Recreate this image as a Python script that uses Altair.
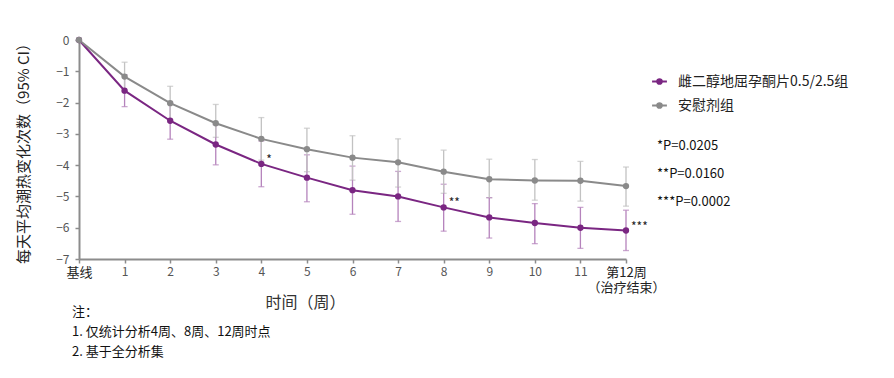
import altair as alt
import pandas as pd

weeks = list(range(13))
series_names = ["雌二醇地屈孕酮片0.5/2.5组", "安慰剂组"]
purple_mean = [0, -1.62, -2.58, -3.34, -3.96, -4.40, -4.80, -5.00, -5.35, -5.67, -5.85, -6.00, -6.09]
purple_low = [0, -2.13, -3.17, -3.99, -4.69, -5.17, -5.57, -5.80, -6.11, -6.33, -6.51, -6.66, -6.73]
purple_high = [0, -1.11, -1.99, -2.71, -3.23, -3.67, -4.03, -4.20, -4.61, -5.04, -5.23, -5.35, -5.44]
gray_mean = [0, -1.17, -2.02, -2.66, -3.16, -3.49, -3.76, -3.91, -4.21, -4.45, -4.49, -4.50, -4.67]
gray_low = [0, -1.63, -2.56, -3.11, -3.84, -4.21, -4.48, -4.70, -4.90, -5.04, -5.12, -5.15, -5.31]
gray_high = [0, -0.71, -1.48, -2.06, -2.48, -2.82, -3.06, -3.16, -3.52, -3.81, -3.82, -3.88, -4.06]
y_ticks = [-7, -6, -5, -4, -3, -2, -1, 0]

star_weeks = [4, 8, 12]
star_labels = ["*", "**", "***"]
p_texts = ["*P=0.0205", "**P=0.0160", "***P=0.0002"]
notes = ["注：", "1. 仅统计分析4周、8周、12周时点", "2. 基于全分析集"]

FONT = "Noto Sans CJK SC"
PURPLE = "#7A2682"
GRAY = "#8A8A8A"
PURPLE_L = "#B583BC"
GRAY_L = "#C2C2C2"

rows = []
for i, w in enumerate(weeks):
    rows.append({"week": w, "group": series_names[0], "mean": purple_mean[i], "low": purple_low[i], "high": purple_high[i]})
    rows.append({"week": w, "group": series_names[1], "mean": gray_mean[i], "low": gray_low[i], "high": gray_high[i]})
df = pd.DataFrame(rows)

W, H = 547, 219

xscale = alt.Scale(domain=[0, 12], nice=False, zero=False)
yscale = alt.Scale(domain=[-7, 0], nice=False)
color = alt.Color(
    "group:N",
    scale=alt.Scale(domain=series_names, range=[PURPLE, GRAY]),
    legend=alt.Legend(
        title=None, orient="none", legendX=572, legendY=33,
        symbolType="M-1,0L1,0M0.32,0A0.32,0.32,0,1,1,-0.32,0A0.32,0.32,0,1,1,0.32,0Z",
        symbolSize=220, symbolStrokeWidth=2, labelFont=FONT, labelFontSize=14,
        labelColor="#222", rowPadding=8, labelOffset=10, labelLimit=0,
    ),
)

x_axis = alt.Axis(
    values=weeks, title="时间（周）", titleFont=FONT, titleFontSize=16, titleFontWeight="normal",
    titleColor="#333", titlePadding=0, titleX=226,
    labelExpr="datum.value == 0 ? '基线' : datum.value == 12 ? ['第12周', '（治疗结束）'] : datum.value",
    labelFont=FONT,
    labelFontSize={"condition": {"test": "datum.value == 12 || datum.value == 0", "value": 13}, "value": 12},
    labelColor={"condition": {"test": "datum.value == 12 || datum.value == 0", "value": "#222"}, "value": "#555"},
    labelPadding=3, labelFlush=False,
    labelOverlap=False, labelLineHeight=15,
    domainColor="#8C8C8C", domainWidth=2, tickColor="#8C8C8C", tickSize=4, tickWidth=1.5, grid=False,
)
y_axis = alt.Axis(
    values=y_ticks, title="每天平均潮热变化次数（95% CI）", titleFont=FONT, titleFontSize=15,
    titleFontWeight="normal", titleColor="#222", titlePadding=24,
    labelFont=FONT, labelFontSize=12, labelColor="#555", labelPadding=6, labelOverlap=False, labelFlush=False,
    domainColor="#8C8C8C", domainWidth=2, tickColor="#8C8C8C", tickSize=4, tickWidth=1.5, grid=False,
)

base = alt.Chart(df)
err = base.transform_filter("datum.week > 0").mark_errorbar(ticks=alt.MarkConfig(size=6), thickness=1.3).encode(
    x=alt.X("week:Q", scale=xscale, axis=x_axis),
    y=alt.Y("low:Q", scale=yscale, axis=y_axis),
    y2="high:Q",
    color=alt.Color("group:N", scale=alt.Scale(domain=series_names, range=[PURPLE_L, GRAY_L]), legend=None),
)
lines = base.mark_line(strokeWidth=2, point=alt.OverlayMarkDef(filled=True, size=40)).encode(
    x=alt.X("week:Q", scale=xscale, axis=x_axis),
    y=alt.Y("mean:Q", scale=yscale, axis=y_axis),
    color=color,
    order=alt.Order("week:Q"),
)

star_df = pd.DataFrame({"week": star_weeks, "label": star_labels,
                        "y": [purple_mean[w] for w in star_weeks]})
stars = alt.Chart(star_df).mark_text(font=FONT, fontSize=12, align="left", baseline="middle", dx=5, dy=-4, color="#222").encode(
    x=alt.X("week:Q", scale=xscale, axis=x_axis), y=alt.Y("y:Q", scale=yscale, axis=y_axis), text="label:N")

text_layers = []
for i, t in enumerate(p_texts):
    text_layers.append(
        alt.Chart(pd.DataFrame({"t": [t]})).mark_text(font=FONT, fontSize=13, align="left", baseline="middle", color="#111")
        .encode(x=alt.value(578), y=alt.value(106 + 28 * i), text="t:N")
    )
for i, t in enumerate(notes):
    text_layers.append(
        alt.Chart(pd.DataFrame({"t": [t]})).mark_text(font=FONT, fontSize=13, align="left", baseline="middle", color="#111")
        .encode(x=alt.value(-7), y=alt.value(272 + 20 * i), text="t:N")
    )

chart = alt.layer(err, lines, stars, *text_layers).resolve_scale(color="independent").properties(
    width=W, height=H, padding={"left": 79, "top": 40, "right": 268, "bottom": 119},
    autosize=alt.AutoSizeParams(type="none"), background="white",
).configure_view(stroke=None).configure_axis(grid=False, labelOverlap=False)

chart.save("out.html", embed_options={"renderer": "svg", "actions": False})
